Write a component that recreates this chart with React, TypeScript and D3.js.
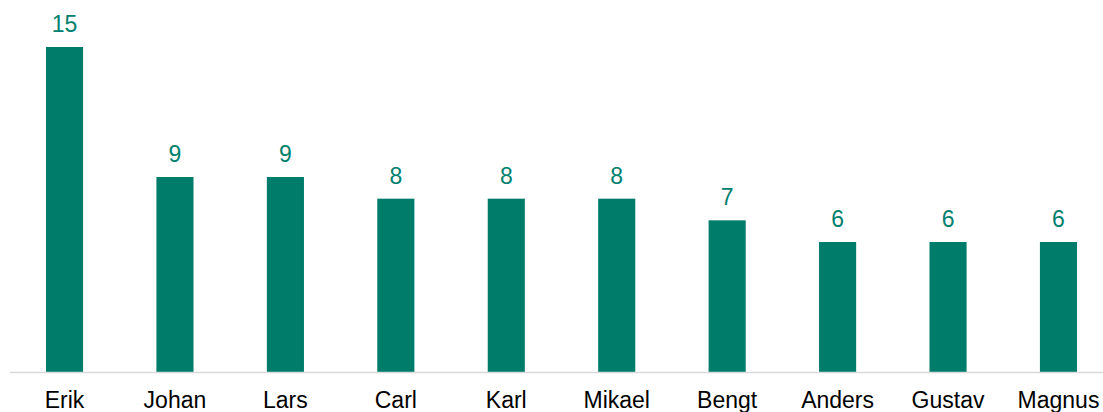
import React from "react";
import * as d3 from "d3";

const categories = ["Erik", "Johan", "Lars", "Carl", "Karl", "Mikael", "Bengt", "Anders", "Gustav", "Magnus"];
const values = [15, 9, 9, 8, 8, 8, 7, 6, 6, 6];

const W = 1103;
const H = 412;
const BASE = 372;
const BAR_COLOR = "#007C6B";
const LABEL_COLOR = "#00806E";

export default function App() {
  const x = d3.scaleBand<string>().domain(categories).range([9.3, 1113.7]).paddingInner(0.664).paddingOuter(0.332);
  const y = d3.scaleLinear().domain([0, 15]).range([BASE, 47]);
  return (
    <svg width={W} height={H} style={{ position: "absolute", left: 0, top: 0, fontFamily: "Liberation Sans, Arial, sans-serif" }}>
      {categories.map((c, i) => {
        const bx = x(c)!;
        const bw = x.bandwidth();
        return (
          <g key={c}>
            <rect x={bx} y={y(values[i])} width={bw} height={BASE - y(values[i])} fill={BAR_COLOR} />
            <text x={bx + bw / 2} y={y(values[i]) - 15} textAnchor="middle" fontSize={23} fill={LABEL_COLOR}>
              {values[i]}
            </text>
            <text x={bx + bw / 2} y={408} textAnchor="middle" fontSize={23} fill="#000">
              {c}
            </text>
          </g>
        );
      })}
      <line x1={10} x2={W} y1={BASE + 0.5} y2={BASE + 0.5} stroke="#D9D9D9" strokeWidth={1.5} />
    </svg>
  );
}
